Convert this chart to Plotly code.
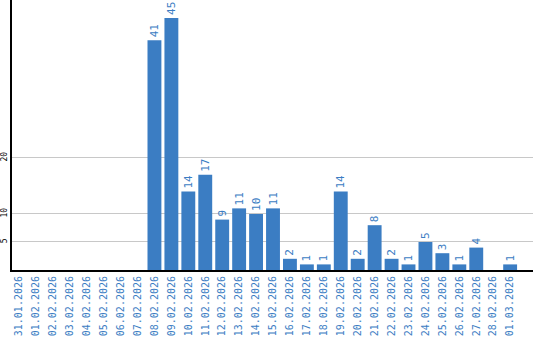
import plotly.graph_objects as go

dates = ["31.01.2026", "01.02.2026", "02.02.2026", "03.02.2026", "04.02.2026", "05.02.2026",
         "06.02.2026", "07.02.2026", "08.02.2026", "09.02.2026", "10.02.2026", "11.02.2026",
         "12.02.2026", "13.02.2026", "14.02.2026", "15.02.2026", "16.02.2026", "17.02.2026",
         "18.02.2026", "19.02.2026", "20.02.2026", "21.02.2026", "22.02.2026", "23.02.2026",
         "24.02.2026", "25.02.2026", "26.02.2026", "27.02.2026", "28.02.2026", "01.03.2026"]
values = [0, 0, 0, 0, 0, 0, 0, 0, 41, 45, 14, 17, 9, 11, 10, 11, 2, 1, 1, 14, 2, 8, 2, 1, 5, 3, 1, 4, 0, 1]
ytick_vals = [5, 10, 20]

blue = "#3b7dc3"
fig = go.Figure(go.Bar(
    x=list(range(len(dates))), y=values,
    text=[str(v) if v else "" for v in values],
    textposition="outside", textangle=-90, constraintext="none", cliponaxis=False,
    textfont=dict(family="DejaVu Sans Mono", size=11, color=blue),
    marker=dict(color=blue, line=dict(width=0)),
))
fig.update_layout(
    width=540, height=340, margin=dict(l=10, r=7, t=0, b=70),
    paper_bgcolor="white", plot_bgcolor="white", bargap=0.18, showlegend=False,
    xaxis=dict(tickmode="array", tickvals=list(range(len(dates))), ticktext=dates,
               range=[-0.41, 30.35], tickangle=-90, showgrid=False,
               showline=True, linecolor="black", linewidth=2, ticks="",
               tickfont=dict(family="DejaVu Sans Mono", size=10, color=blue)),
    yaxis=dict(range=[0, 48.2], tickvals=ytick_vals, tickangle=-90,
               showgrid=True, gridcolor="#c8c8c8", gridwidth=1, zeroline=False,
               showline=True, linecolor="black", linewidth=2, ticks="",
               tickfont=dict(family="DejaVu Sans Mono", size=8, color="black")),
)
fig.write_html("out.html")
